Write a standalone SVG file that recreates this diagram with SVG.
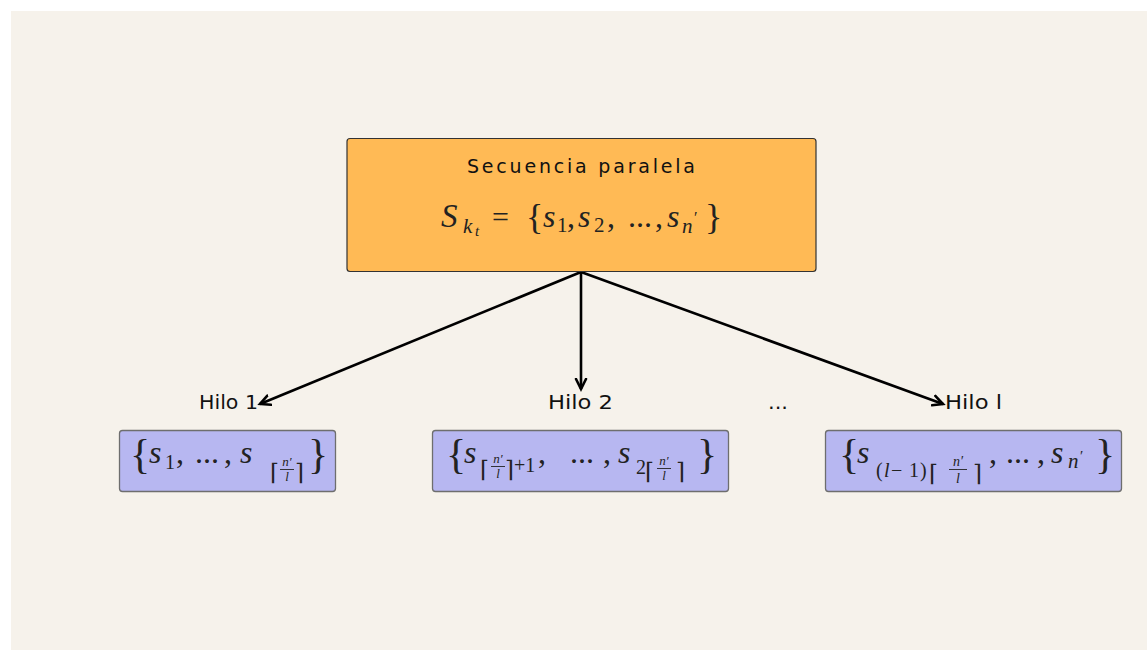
<svg xmlns="http://www.w3.org/2000/svg" width="1147" height="651" viewBox="0 0 1147 651">
<defs>
<marker id="ah" markerUnits="userSpaceOnUse" markerWidth="16" markerHeight="16" refX="11" refY="6" orient="auto" viewBox="0 0 16 12">
<path d="M1,1 L11,6 L1,11" fill="none" stroke="#000" stroke-width="2.6" stroke-linejoin="miter" stroke-linecap="round"/>
</marker>
</defs>
<style>
.lbl{font-family:"DejaVu Sans","Liberation Sans",sans-serif;font-size:19px;fill:#111}
.m{font-family:"Liberation Serif","DejaVu Serif",serif;fill:#222}
.c{font-family:"DejaVu Serif","Liberation Serif",serif;fill:#222;font-size:23px}
.i{font-style:italic}
.blue{fill:#B7B7F1;stroke:#6E6E6E;stroke-width:1.3}
.fl{stroke:#222;stroke-width:0.9}
.edge{stroke:#000;stroke-width:2.6;fill:none;marker-end:url(#ah)}
</style>
<rect x="0" y="0" width="1147" height="651" fill="#FFFFFF"/>
<rect x="11" y="11" width="1136" height="639" fill="#F6F2EB"/>

<g id="connectors">
<line class="edge" x1="581" y1="272" x2="260" y2="404"/>
<line class="edge" x1="581" y1="272" x2="581" y2="389"/>
<line class="edge" x1="581" y1="272" x2="943" y2="404"/>
</g>

<g id="main">
<rect x="347" y="138.5" width="469" height="133" rx="3" fill="#FFBA55" stroke="#333" stroke-width="1.2"/>
<text class="lbl" x="467" y="173" font-size="21" textLength="228" lengthAdjust="spacing">Secuencia paralela</text>
<text class="m" font-size="32"><tspan class="i" x="441" y="227" font-size="33">S</tspan><tspan class="i" x="463" y="233" font-size="21">k</tspan><tspan class="i" x="475" y="236" font-size="15">t</tspan><tspan x="492" y="227" font-size="30">=</tspan><tspan x="526" y="229" font-size="36">{</tspan><tspan class="i" x="543" y="227">s</tspan><tspan x="557" y="232" font-size="21">1</tspan><tspan x="567" y="227">,</tspan><tspan class="i" x="578" y="227">s</tspan><tspan x="594" y="232" font-size="21">2</tspan><tspan x="607" y="227">,</tspan><tspan x="628" y="227">...</tspan><tspan x="655" y="227">,</tspan><tspan class="i" x="667" y="227">s</tspan><tspan class="i" x="682" y="233" font-size="21">n</tspan><tspan x="694" y="223" font-size="16">′</tspan><tspan x="705" y="229" font-size="36">}</tspan></text>
</g>

<g id="hilo1">
<text class="lbl" x="199" y="409" textLength="59" lengthAdjust="spacingAndGlyphs">Hilo 1</text>
<rect class="blue" x="119.5" y="430.5" width="216" height="61" rx="3"/>
<text class="m" font-size="32"><tspan x="130" y="468" font-size="42">{</tspan><tspan class="i" x="149" y="463">s</tspan><tspan x="165" y="469" font-size="20">1</tspan><tspan x="176" y="463">,</tspan><tspan x="195" y="463">...</tspan><tspan x="224" y="463">,</tspan><tspan class="i" x="240" y="463">s</tspan><tspan x="308" y="468" font-size="42">}</tspan></text>
<text class="c"><tspan x="270" y="480">⌈</tspan><tspan x="295" y="480">⌉</tspan></text>
<text class="m i" font-size="13" x="287" y="466" text-anchor="middle">n′</text>
<line class="fl" x1="280" y1="469.5" x2="294" y2="469.5"/>
<text class="m i" font-size="13" x="287" y="481" text-anchor="middle">l</text>
</g>

<g id="hilo2">
<text class="lbl" x="548" y="409" textLength="65" lengthAdjust="spacingAndGlyphs">Hilo 2</text>
<rect class="blue" x="432.5" y="430.5" width="296" height="61" rx="3"/>
<text class="m" font-size="32"><tspan x="446" y="468" font-size="42">{</tspan><tspan class="i" x="464" y="463">s</tspan><tspan x="514" y="472" font-size="20">+1</tspan><tspan x="538" y="463">,</tspan><tspan x="570" y="463">...</tspan><tspan x="603" y="463">,</tspan><tspan class="i" x="618" y="463">s</tspan><tspan x="636" y="474" font-size="20">2</tspan><tspan x="697" y="468" font-size="42">}</tspan></text>
<text class="c"><tspan x="480" y="477">⌈</tspan><tspan x="505" y="477">⌉</tspan><tspan x="645" y="479">⌈</tspan><tspan x="676" y="479">⌉</tspan></text>
<text class="m i" font-size="13" x="498" y="463" text-anchor="middle">n′</text>
<line class="fl" x1="491" y1="466.5" x2="505" y2="466.5"/>
<text class="m i" font-size="13" x="498" y="478" text-anchor="middle">l</text>
<text class="m i" font-size="13" x="664" y="465" text-anchor="middle">n′</text>
<line class="fl" x1="657" y1="468.5" x2="671" y2="468.5"/>
<text class="m i" font-size="13" x="664" y="480" text-anchor="middle">l</text>
</g>

<text id="dots" class="lbl" x="768" y="409" textLength="20" lengthAdjust="spacingAndGlyphs">...</text>

<g id="hilol">
<text class="lbl" x="945" y="409" textLength="57" lengthAdjust="spacingAndGlyphs">Hilo l</text>
<rect class="blue" x="825.5" y="430.5" width="296" height="61" rx="3"/>
<text class="m" font-size="32"><tspan x="839" y="468" font-size="42">{</tspan><tspan class="i" x="857" y="463">s</tspan><tspan x="876" y="477" font-size="20">(</tspan><tspan class="i" x="884" y="477" font-size="20">l</tspan><tspan x="891" y="477" font-size="20">−</tspan><tspan x="909" y="477" font-size="20">1</tspan><tspan x="920" y="477" font-size="20">)</tspan><tspan x="989" y="463">,</tspan><tspan x="1006" y="463">...</tspan><tspan x="1037" y="463">,</tspan><tspan class="i" x="1051" y="463">s</tspan><tspan class="i" x="1068" y="468" font-size="21">n</tspan><tspan x="1080" y="461" font-size="15">′</tspan><tspan x="1095" y="468" font-size="42">}</tspan></text>
<text class="c"><tspan x="929" y="481">⌈</tspan><tspan x="973" y="481">⌉</tspan></text>
<text class="m i" font-size="14" x="958" y="466" text-anchor="middle">n′</text>
<line class="fl" x1="949" y1="469.5" x2="967" y2="469.5"/>
<text class="m i" font-size="14" x="958" y="483" text-anchor="middle">l</text>
</g>
</svg>
